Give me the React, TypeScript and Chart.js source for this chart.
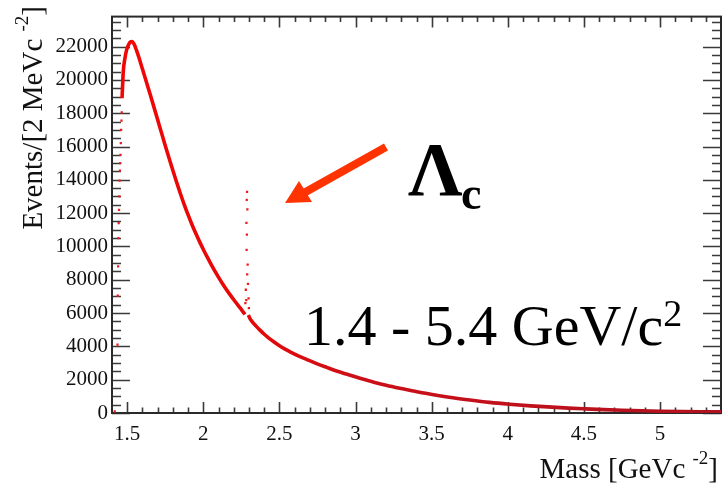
import React, { useEffect, useRef } from "react";
import { Chart, registerables } from "chart.js";

Chart.register(...registerables);

// Axis ranges and labelled ticks
const massRange = [1.4, 5.4];
const eventsRange = [0, 23800];
const massTicks = [1.5, 2, 2.5, 3, 3.5, 4, 4.5, 5];
const eventsTicks = [0, 2000, 4000, 6000, 8000, 10000, 12000, 14000, 16000, 18000, 20000, 22000];
const massMinorStep = 0.1;
const eventsMinorStep = 500;

// Threshold rise: steep bins drawn as separate markers
const edgeMass = [1.418, 1.436, 1.438, 1.44, 1.442, 1.444, 1.446, 1.448, 1.45, 1.452, 1.454, 1.456, 1.458, 1.46, 1.462, 1.464];
const edgeEvents = [100, 4100, 7050, 8800, 10500, 11400, 12200, 13000, 13950, 14550, 15000, 15500, 16200, 17000, 17550, 18050];

// Continuum below the Lambda_c peak
const lowMass = [1.466, 1.474, 1.485, 1.496, 1.508, 1.52, 1.53, 1.545, 1.56, 1.58, 1.6, 1.625, 1.65, 1.675, 1.7, 1.725, 1.75, 1.775, 1.8, 1.825, 1.85, 1.875, 1.9, 1.925, 1.95, 1.975, 2.0, 2.025, 2.05, 2.075, 2.1, 2.125, 2.15, 2.175, 2.2, 2.225, 2.25, 2.262, 2.274];
const lowEvents = [18900, 20500, 21300, 21800, 22100, 22280, 22300, 22150, 21800, 21250, 20650, 19900, 19150, 18380, 17600, 16820, 16050, 15300, 14560, 13840, 13150, 12500, 11890, 11320, 10790, 10290, 9820, 9370, 8940, 8530, 8145, 7780, 7435, 7110, 6800, 6500, 6210, 6060, 5920];

// Lambda_c signal bins
const spikeMass = [2.287, 2.285, 2.289, 2.283, 2.286, 2.284, 2.291, 2.288, 2.293, 2.279, 2.297, 2.282, 2.276, 2.299];
const spikeEvents = [13270, 12800, 12220, 11410, 10710, 9790, 8910, 8330, 7750, 7400, 6880, 6770, 6590, 6300];

// Continuum above the peak
const highMass = [2.296, 2.305, 2.32, 2.345, 2.37, 2.4, 2.43, 2.46, 2.5, 2.54, 2.57, 2.62, 2.68, 2.74, 2.81, 2.88, 2.96, 3.04, 3.12, 3.2, 3.29, 3.38, 3.46, 3.55, 3.65, 3.75, 3.88, 4.01, 4.15, 4.29, 4.4, 4.51, 4.63, 4.75, 4.88, 5.0, 5.15, 5.3, 5.4];
const highEvents = [5880, 5690, 5490, 5230, 4990, 4730, 4500, 4290, 4040, 3820, 3670, 3450, 3210, 2980, 2740, 2510, 2280, 2060, 1850, 1660, 1480, 1320, 1180, 1040, 900, 780, 640, 530, 430, 350, 295, 250, 205, 165, 132, 108, 86, 72, 65];

const SERIF = "'Liberation Serif', 'Times New Roman', serif";

const pts = (xs: number[], ys: number[]) => xs.map((x, i) => ({ x, y: ys[i] }));

type Seg = { t: string; size: number; bold?: boolean; dy?: number };

// Draws a run of text pieces (for super/subscripts) starting or ending at x
function drawRich(ctx: CanvasRenderingContext2D, segs: Seg[], x: number, y: number, align: "left" | "right", color: string) {
  const fontOf = (s: Seg) => `${s.bold ? "bold " : ""}${s.size}px ${SERIF}`;
  const widths = segs.map((s) => {
    ctx.font = fontOf(s);
    return ctx.measureText(s.t).width;
  });
  const total = widths.reduce((a, b) => a + b, 0);
  let cx = align === "left" ? x : x - total;
  ctx.fillStyle = color;
  ctx.textAlign = "left";
  ctx.textBaseline = "alphabetic";
  segs.forEach((s, i) => {
    ctx.font = fontOf(s);
    ctx.fillText(s.t, cx, y + (s.dy || 0));
    cx += widths[i];
  });
}

const frameTicks = {
  id: "frameTicks",
  beforeDatasetsDraw(chart: any) {
    const { ctx, chartArea: a, scales } = chart;
    const xs = scales.x;
    const ys = scales.y;
    ctx.save();
    ctx.strokeStyle = "#3a3a3a";
    ctx.lineWidth = 1.6;
    ctx.beginPath();
    const k0 = Math.ceil(massRange[0] / massMinorStep - 1e-6);
    const k1 = Math.floor(massRange[1] / massMinorStep + 1e-6);
    for (let k = k0; k <= k1; k++) {
      const v = k * massMinorStep;
      const major = massTicks.some((t) => Math.abs(t - v) < 1e-6);
      const len = major ? 11 : 5.5;
      const px = Math.round(xs.getPixelForValue(v)) + 0.5;
      if (px <= a.left + 1 || px >= a.right - 1) continue;
      ctx.moveTo(px, a.bottom);
      ctx.lineTo(px, a.bottom - len);
      ctx.moveTo(px, a.top);
      ctx.lineTo(px, a.top + len);
    }
    const n1 = Math.floor(eventsRange[1] / eventsMinorStep);
    for (let k = 0; k <= n1; k++) {
      const v = k * eventsMinorStep;
      const major = eventsTicks.includes(v);
      const len = major ? 18 : 9;
      const py = Math.round(ys.getPixelForValue(v)) + 0.5;
      ctx.moveTo(a.left, py);
      ctx.lineTo(a.left + len, py);
      ctx.moveTo(a.right, py);
      ctx.lineTo(a.right - len, py);
    }
    ctx.stroke();
    ctx.lineWidth = 2;
    ctx.strokeStyle = "#2a2a2a";
    ctx.strokeRect(a.left, a.top, a.right - a.left, a.bottom - a.top);
    ctx.restore();
  },
  afterDraw(chart: any) {
    const { ctx } = chart;
    ctx.save();
    // x-axis title
    drawRich(
      ctx,
      [
        { t: "Mass [GeVc ", size: 29 },
        { t: "-2", size: 19, dy: -14 },
        { t: "]", size: 29 },
      ],
      718,
      478,
      "right",
      "#111"
    );
    // y-axis title, reading upwards
    ctx.save();
    ctx.translate(42, 6);
    ctx.rotate(-Math.PI / 2);
    drawRich(
      ctx,
      [
        { t: "Events/[2 MeVc ", size: 29 },
        { t: "-2", size: 19, dy: -14 },
        { t: "]", size: 29 },
      ],
      0,
      0,
      "right",
      "#111"
    );
    ctx.restore();

    // Lambda_c label
    drawRich(ctx, [{ t: "\u039B", size: 76, bold: true }], 408, 195, "left", "#000");
    drawRich(ctx, [{ t: "c", size: 46, bold: true }], 461, 209, "left", "#000");

    // mass window label
    drawRich(
      ctx,
      [
        { t: "1.4 - 5.4 GeV/c", size: 58 },
        { t: "2", size: 38, dy: -19 },
      ],
      304,
      345,
      "left",
      "#000"
    );

    // arrow pointing at the peak
    ctx.strokeStyle = "#ff3300";
    ctx.fillStyle = "#ff3300";
    ctx.lineWidth = 8;
    ctx.lineCap = "butt";
    ctx.beginPath();
    ctx.moveTo(386, 147);
    ctx.lineTo(302, 194);
    ctx.stroke();
    ctx.beginPath();
    ctx.moveTo(285, 203);
    ctx.lineTo(299, 181);
    ctx.lineTo(312, 202);
    ctx.closePath();
    ctx.fill();
    ctx.restore();
  },
};

function redGradient(ctx: any) {
  const chart = ctx.chart;
  const area = chart.chartArea;
  if (!area) return "#d80a0a";
  const g = chart.ctx.createLinearGradient(area.left, 0, area.right, 0);
  g.addColorStop(0, "#f20606");
  g.addColorStop(0.22, "#e60808");
  g.addColorStop(0.4, "#cc0f18");
  g.addColorStop(1, "#b0121f");
  return g;
}

export default function App() {
  const ref = useRef<HTMLCanvasElement>(null);
  useEffect(() => {
    document.body.style.margin = "0";
    const canvas = ref.current!;
    const lineStyle = {
      showLine: true,
      pointRadius: 0,
      borderWidth: 3.6,
      borderColor: redGradient,
      cubicInterpolationMode: "monotone" as const,
      fill: false,
    };
    const dotStyle = {
      showLine: false,
      pointRadius: 1.6,
      pointBorderWidth: 0,
      pointBackgroundColor: "#ee1c1c",
      pointStyle: "rect" as const,
    };
    const chart = new Chart(canvas, {
      type: "scatter",
      data: {
        datasets: [
          { label: "threshold", data: pts(edgeMass, edgeEvents), ...dotStyle },
          { label: "below", data: pts(lowMass, lowEvents), ...lineStyle },
          { label: "signal", data: pts(spikeMass, spikeEvents), ...dotStyle },
          { label: "above", data: pts(highMass, highEvents), ...lineStyle },
        ],
      },
      options: {
        responsive: false,
        animation: false,
        devicePixelRatio: 1,
        layout: { padding: { top: 8, right: 3, left: 0, bottom: 0 } },
        plugins: { legend: { display: false }, tooltip: { enabled: false } },
        scales: {
          x: {
            type: "linear",
            min: massRange[0],
            max: massRange[1],
            grid: { display: false, drawTicks: false },
            border: { display: false },
            afterBuildTicks: (s: any) => {
              s.ticks = massTicks.map((v) => ({ value: v }));
            },
            afterFit: (s: any) => {
              s.height = 72;
            },
            ticks: {
              padding: 9,
              maxRotation: 0,
              autoSkip: false,
              color: "#111",
              font: { family: SERIF, size: 21 },
              callback: (v: any) => String(Number(v)),
            },
          },
          y: {
            type: "linear",
            min: eventsRange[0],
            max: eventsRange[1],
            grid: { display: false, drawTicks: false },
            border: { display: false },
            afterBuildTicks: (s: any) => {
              s.ticks = eventsTicks.map((v) => ({ value: v }));
            },
            afterFit: (s: any) => {
              s.width = 112;
            },
            ticks: {
              padding: 4,
              autoSkip: false,
              color: "#111",
              font: { family: SERIF, size: 21 },
              callback: (v: any) => String(v),
            },
          },
        },
      },
      plugins: [frameTicks],
    });
    return () => chart.destroy();
  }, []);
  return <canvas ref={ref} width={725} height={485} style={{ display: "block" }} />;
}
